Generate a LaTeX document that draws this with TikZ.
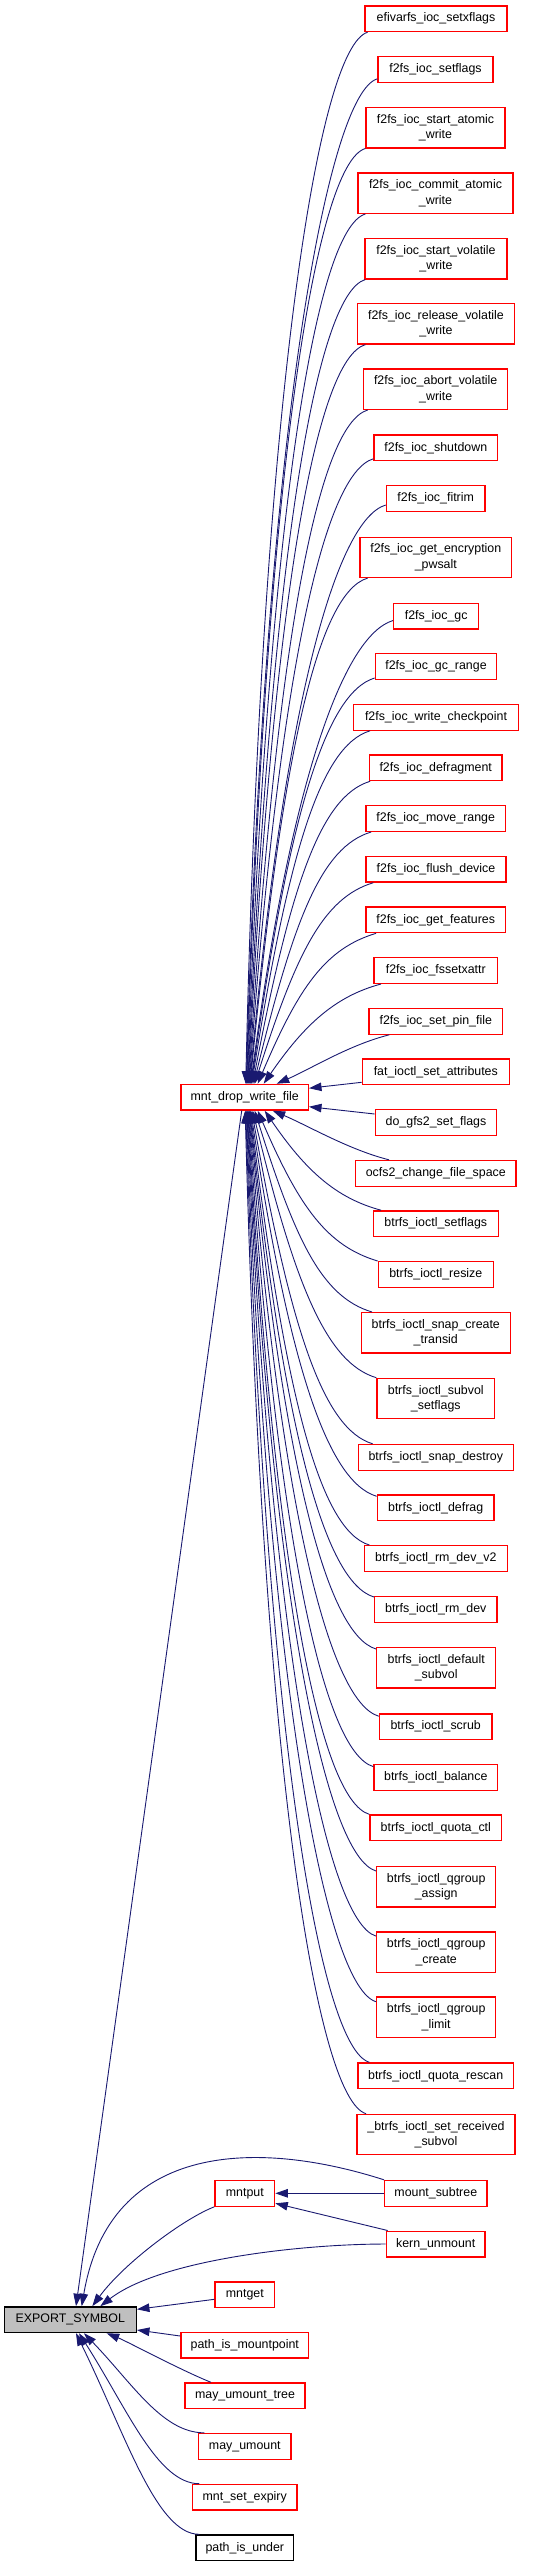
\documentclass[tikz,border=0pt]{standalone}
\usepackage{fontspec}
\setmainfont{Liberation Sans}
\usetikzlibrary{arrows.meta,calc}
\definecolor{edgeblue}{HTML}{191970}
\definecolor{symgray}{HTML}{BFBFBF}
\tikzset{
  fbox/.style={draw=red, fill=white, line width=1.3pt, inner sep=1pt, align=center,
    font=\fontsize{12.4}{15.3}\selectfont},
  lineone/.style={minimum height=25.7pt},
  linetwo/.style={minimum height=40.3pt},
  sbox/.style={fbox, draw=black, fill=symgray},
  pbox/.style={fbox, draw=black},
  edge/.style={draw=edgeblue, line width=0.9pt, -{Triangle[length=12.5pt,width=8.5pt]}},
}
\newcommand\ecurve[6]{\draw[edge] let \p1=#1, \p2=#2 in (\p1) .. controls ($(\p1)+(#3,#4)$) and ($(\p2)+({-#5*((\x2)-(\x1))},{-#6*((\y2)-(\y1))})$) .. (\p2);}
\begin{document}
\begin{tikzpicture}[x=1pt,y=1pt]
\useasboundingbox (0,0) rectangle (553,-2567);
% right column
\node[fbox,lineone,minimum width=142pt] (efi) at (436,-18.7) {efivarfs\_ioc\_setxflags};
\node[fbox,lineone,minimum width=115pt] (f2set) at (435.5,-69.3) {f2fs\_ioc\_setflags};
\node[fbox,linetwo,minimum width=139pt] (startatomic) at (435.5,-127.7) {f2fs\_ioc\_start\_atomic\\\_write};
\node[fbox,linetwo,minimum width=155pt] (commit) at (435.5,-193.2) {f2fs\_ioc\_commit\_atomic\\\_write};
\node[fbox,linetwo,minimum width=142pt] (startvol) at (436,-258.7) {f2fs\_ioc\_start\_volatile\\\_write};
\node[fbox,linetwo,minimum width=156.6pt] (releasevol) at (436,-323.8) {f2fs\_ioc\_release\_volatile\\\_write};
\node[fbox,linetwo,minimum width=144pt] (abortvol) at (435.7,-389.2) {f2fs\_ioc\_abort\_volatile\\\_write};
\node[fbox,lineone,minimum width=123.7pt] (shutdown) at (435.8,-447.8) {f2fs\_ioc\_shutdown};
\node[fbox,lineone,minimum width=98.7pt] (fitrim) at (435.7,-498.5) {f2fs\_ioc\_fitrim};
\node[fbox,linetwo,minimum width=151.7pt] (encpw) at (435.8,-557.3) {f2fs\_ioc\_get\_encryption\\\_pwsalt};
\node[fbox,lineone,minimum width=85pt] (gc) at (436.2,-616) {f2fs\_ioc\_gc};
\node[fbox,lineone,minimum width=121.4pt] (gcrange) at (436,-666.5) {f2fs\_ioc\_gc\_range};
\node[fbox,lineone,minimum width=164.6pt] (writecp) at (436,-717.3) {f2fs\_ioc\_write\_checkpoint};
\node[fbox,lineone,minimum width=132.7pt] (defrag) at (435.7,-767.8) {f2fs\_ioc\_defragment};
\node[fbox,lineone,minimum width=139.3pt] (moverange) at (435.7,-818.5) {f2fs\_ioc\_move\_range};
\node[fbox,lineone,minimum width=140pt] (flushdev) at (436,-869.2) {f2fs\_ioc\_flush\_device};
\node[fbox,lineone,minimum width=139.3pt] (getfeat) at (435.7,-919.8) {f2fs\_ioc\_get\_features};
\node[fbox,lineone,minimum width=123.7pt] (fssetxattr) at (435.8,-970.5) {f2fs\_ioc\_fssetxattr};
\node[fbox,lineone,minimum width=133.7pt] (setpin) at (435.8,-1021.3) {f2fs\_ioc\_set\_pin\_file};
\node[fbox,lineone,minimum width=147pt] (fatattr) at (435.8,-1071.8) {fat\_ioctl\_set\_attributes};
\node[fbox,lineone,minimum width=121.4pt] (gfs2) at (436,-1122.5) {do\_gfs2\_set\_flags};
\node[fbox,lineone,minimum width=160.3pt] (ocfs2) at (435.8,-1173.3) {ocfs2\_change\_file\_space};
\node[fbox,lineone,minimum width=125pt] (btrsetflags) at (435.8,-1223.7) {btrfs\_ioctl\_setflags};
\node[fbox,lineone,minimum width=115pt] (resize) at (435.8,-1274.5) {btrfs\_ioctl\_resize};
\node[fbox,linetwo,minimum width=149pt] (snapcreate) at (435.8,-1332.8) {btrfs\_ioctl\_snap\_create\\\_transid};
\node[fbox,linetwo,minimum width=117.7pt] (subvolset) at (435.8,-1398.5) {btrfs\_ioctl\_subvol\\\_setflags};
\node[fbox,lineone,minimum width=155pt] (snapdestroy) at (435.8,-1457.3) {btrfs\_ioctl\_snap\_destroy};
\node[fbox,lineone,minimum width=116.7pt] (btrdefrag) at (435.7,-1507.8) {btrfs\_ioctl\_defrag};
\node[fbox,lineone,minimum width=143pt] (rmdevv2) at (435.8,-1558.5) {btrfs\_ioctl\_rm\_dev\_v2};
\node[fbox,lineone,minimum width=122.3pt] (rmdev) at (435.8,-1609.5) {btrfs\_ioctl\_rm\_dev};
\node[fbox,linetwo,minimum width=119pt] (defsubvol) at (436.2,-1667.8) {btrfs\_ioctl\_default\\\_subvol};
\node[fbox,lineone,minimum width=112.7pt] (scrub) at (435.7,-1726.7) {btrfs\_ioctl\_scrub};
\node[fbox,lineone,minimum width=123.7pt] (balance) at (435.8,-1777.5) {btrfs\_ioctl\_balance};
\node[fbox,lineone,minimum width=131.7pt] (quotactl) at (435.8,-1827.8) {btrfs\_ioctl\_quota\_ctl};
\node[fbox,linetwo,minimum width=119pt] (qassign) at (436.2,-1886.8) {btrfs\_ioctl\_qgroup\\\_assign};
\node[fbox,linetwo,minimum width=119pt] (qcreate) at (436.2,-1952.2) {btrfs\_ioctl\_qgroup\\\_create};
\node[fbox,linetwo,minimum width=119pt] (qlimit) at (436.2,-2017.2) {btrfs\_ioctl\_qgroup\\\_limit};
\node[fbox,lineone,minimum width=155.3pt] (qrescan) at (435.7,-2075.8) {btrfs\_ioctl\_quota\_rescan};
\node[fbox,linetwo,minimum width=158pt] (setrecv) at (436,-2134.5) {\_btrfs\_ioctl\_set\_received\\\_subvol};
\node[fbox,lineone,minimum width=102.3pt] (mountsub) at (435.8,-2193.3) {mount\_subtree};
\node[fbox,lineone,minimum width=98.7pt] (kernun) at (435.7,-2244) {kern\_unmount};
% middle column
\node[fbox,lineone,minimum width=127.3pt] (mdwf) at (244.7,-1097.2) {mnt\_drop\_write\_file};
\node[fbox,lineone,minimum width=59.7pt] (mntput) at (244.8,-2193.3) {mntput};
\node[fbox,lineone,minimum width=59.7pt] (mntget) at (244.8,-2294.7) {mntget};
\node[fbox,lineone,minimum width=127.7pt] (pim) at (244.8,-2345.2) {path\_is\_mountpoint};
\node[fbox,lineone,minimum width=120pt] (mut) at (245,-2395.8) {may\_umount\_tree};
\node[fbox,lineone,minimum width=92.3pt] (mayum) at (244.8,-2446.3) {may\_umount};
\node[fbox,lineone,minimum width=104.7pt] (mse) at (244.7,-2497.2) {mnt\_set\_expiry};
\node[pbox,lineone,minimum width=97.7pt] (piu) at (244.8,-2547.8) {path\_is\_under};
% left
\node[sbox,lineone,minimum width=132pt] (exp) at (70.3,-2319.7) {EXPORT\_SYMBOL};
% edges into mnt_drop_write_file from above
\ecurve{($(efi.south west)+(3.3,0)$)}{($(mdwf.north)+(1,0)$)}{-50}{-15}{0.13}{0.65}
\ecurve{($(f2set.south west)+(0,4)$)}{($(mdwf.north)+(1.5,0)$)}{-50}{-15}{0.14}{0.65}
\ecurve{(startatomic.south west)}{($(mdwf.north)+(2,0)$)}{-50}{-15}{0.16}{0.65}
\ecurve{($(commit.south west)+(8,0)$)}{($(mdwf.north)+(2.5,0)$)}{-50}{-15}{0.18}{0.65}
\ecurve{($(startvol.south west)+(1,0)$)}{($(mdwf.north)+(3,0)$)}{-50}{-15}{0.2}{0.65}
\ecurve{($(releasevol.south west)+(8.3,0)$)}{($(mdwf.north)+(3.5,0)$)}{-50}{-15}{0.21}{0.65}
\ecurve{($(abortvol.south west)+(4.6,0)$)}{($(mdwf.north)+(4,0)$)}{-50}{-15}{0.23}{0.65}
\ecurve{($(shutdown.south west)+(0,2.5)$)}{($(mdwf.north)+(4.5,0)$)}{-50}{-15}{0.24}{0.65}
\ecurve{($(fitrim.south west)+(0,7)$)}{($(mdwf.north)+(5,0)$)}{-50}{-15}{0.25}{0.65}
\ecurve{($(encpw.south west)+(8.3,0)$)}{($(mdwf.north)+(5.5,0)$)}{-50}{-15}{0.27}{0.65}
\ecurve{($(gc.south west)+(0,9)$)}{($(mdwf.north)+(6,0)$)}{-50}{-15}{0.28}{0.65}
\ecurve{($(gcrange.south west)+(0,2)$)}{($(mdwf.north)+(6.5,0)$)}{-50}{-15}{0.3}{0.65}
\ecurve{($(writecp.south west)+(17,0)$)}{($(mdwf.north)+(7,0)$)}{-50}{-15}{0.31}{0.65}
\ecurve{($(defrag.south west)+(1.4,0)$)}{($(mdwf.north)+(8,0)$)}{-50}{-15}{0.32}{0.65}
\ecurve{($(moverange.south west)+(5.7,0)$)}{($(mdwf.north)+(9,0)$)}{-50}{-15}{0.34}{0.65}
\ecurve{($(flushdev.south west)+(8,0)$)}{($(mdwf.north)+(10,0)$)}{-50}{-15}{0.35}{0.65}
\ecurve{($(getfeat.south west)+(10.7,0)$)}{($(mdwf.north)+(13,0)$)}{-50}{-15}{0.35}{0.65}
\ecurve{($(fssetxattr.south west)+(7.7,0)$)}{($(mdwf.north)+(19,0)$)}{-45}{-12}{0.35}{0.6}
\ecurve{($(setpin.south west)+(21,0)$)}{($(mdwf.north)+(32,0)$)}{-40}{-10}{0.3}{0.3}
\draw[edge] ($(fatattr.south west)+(0,3)$) -- ($(mdwf.east)+(0,9)$);
\draw[edge] ($(gfs2.west)+(0,8.5)$) -- ($(mdwf.east)+(0,-9.5)$);
% edges into mnt_drop_write_file from below
\ecurve{($(ocfs2.north west)+(34,0)$)}{($(mdwf.south)+(28,0)$)}{-40}{10}{0.3}{0.3}
\ecurve{($(btrsetflags.north west)+(8.4,0)$)}{($(mdwf.south)+(20,0)$)}{-45}{12}{0.35}{0.6}
\ecurve{(resize.north west)}{($(mdwf.south)+(13,0)$)}{-50}{15}{0.35}{0.65}
\ecurve{($(snapcreate.north west)+(11.4,0)$)}{($(mdwf.south)+(10,0)$)}{-50}{15}{0.35}{0.65}
\ecurve{(subvolset.north west)}{($(mdwf.south)+(8,0)$)}{-50}{15}{0.34}{0.65}
\ecurve{($(snapdestroy.north west)+(15,0)$)}{($(mdwf.south)+(7,0)$)}{-50}{15}{0.32}{0.65}
\ecurve{($(btrdefrag.north west)+(0,-2)$)}{($(mdwf.south)+(6,0)$)}{-50}{15}{0.3}{0.65}
\ecurve{($(rmdevv2.north west)+(5.7,0)$)}{($(mdwf.south)+(5.5,0)$)}{-50}{15}{0.29}{0.65}
\ecurve{($(rmdev.north west)+(0,-1)$)}{($(mdwf.south)+(5,0)$)}{-50}{15}{0.27}{0.65}
\ecurve{($(defsubvol.north west)+(0,-2)$)}{($(mdwf.south)+(4.5,0)$)}{-50}{15}{0.26}{0.65}
\ecurve{($(scrub.north west)+(0,-3)$)}{($(mdwf.south)+(4,0)$)}{-50}{15}{0.24}{0.65}
\ecurve{($(balance.north west)+(0,-2.6)$)}{($(mdwf.south)+(3.5,0)$)}{-50}{15}{0.23}{0.65}
\ecurve{(quotactl.north west)}{($(mdwf.south)+(3,0)$)}{-50}{15}{0.22}{0.65}
\ecurve{($(qassign.north west)+(0,-5)$)}{($(mdwf.south)+(2.5,0)$)}{-50}{15}{0.2}{0.65}
\ecurve{($(qcreate.north west)+(0,-4.7)$)}{($(mdwf.south)+(2,0)$)}{-50}{15}{0.19}{0.65}
\ecurve{($(qlimit.north west)+(0,-5.3)$)}{($(mdwf.south)+(1.5,0)$)}{-50}{15}{0.17}{0.65}
\ecurve{($(qrescan.north west)+(12,0)$)}{($(mdwf.south)+(1,0)$)}{-50}{15}{0.16}{0.65}
\ecurve{($(setrecv.north west)+(9.7,0)$)}{($(mdwf.south)+(0.5,0)$)}{-50}{15}{0.14}{0.65}
% edges into EXPORT_SYMBOL
\draw[edge] ($(mdwf.south)+(-3,0)$) -- ($(exp.north)+(5.7,0)$);
\draw[edge] (mountsub.north west) .. controls (260,-2140) and (110,-2140) .. ($(exp.north)+(11.4,0)$);
\draw[edge] (mntput.south west) .. controls (185,-2218) and (125,-2262) .. ($(exp.north)+(22,0)$);
\draw[edge] (kernun.west) .. controls (300,-2244) and (160,-2260) .. ($(exp.north)+(30,0)$);
\draw[edge] ($(mntget.west)+(0,-4.6)$) -- ($(exp.east)+(0,10.4)$);
\draw[edge] ($(pim.west)+(0,9.2)$) -- ($(exp.east)+(0,-10.3)$);
\draw[edge] ($(mut.north west)+(26.7,0)$) .. controls +(-30,12) and +(20,-8) .. ($(exp.south)+(36.4,0)$);
\ecurve{($(mayum.north west)+(6.3,0)$)}{($(exp.south)+(13.7,0)$)}{-42}{0}{0.4}{0.5}
\ecurve{($(mse.north west)+(7.7,0)$)}{($(exp.south)+(8.7,0)$)}{-42}{0}{0.4}{0.5}
\ecurve{($(piu.north west)+(4,0)$)}{($(exp.south)+(5.7,0)$)}{-43}{0}{0.4}{0.5}
% edges into mntput
\draw[edge] (mountsub.west) -- (mntput.east);
\draw[edge] ($(kernun.north west)+(2,0)$) -- ($(mntput.east)+(0,-10)$);
\end{tikzpicture}
\end{document}
